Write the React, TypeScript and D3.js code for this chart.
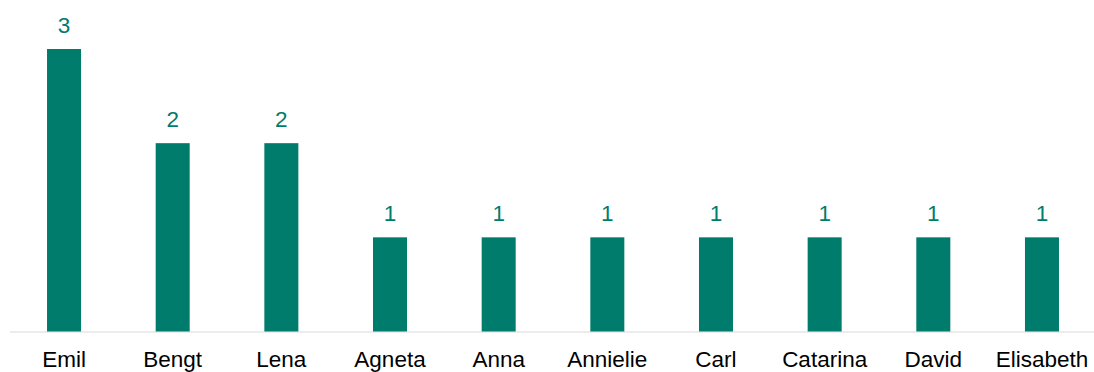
import React from "react";
import * as d3 from "d3";

const categories = ["Emil", "Bengt", "Lena", "Agneta", "Anna", "Annielie", "Carl", "Catarina", "David", "Elisabeth"];
const values = [3, 2, 2, 1, 1, 1, 1, 1, 1, 1];

const W = 1094;
const H = 372;
const TEAL = "#007C6D";

export default function App() {
  const x = d3.scaleBand<string>().domain(categories).range([9.7, 1096.3]).padding(0);
  const y = d3.scaleLinear().domain([0, 3]).range([331.5, 49]);
  const barW = x.bandwidth() * 0.313;
  return (
    <svg width={W} height={H} style={{ position: "absolute", left: 0, top: 0 }}
      fontFamily="'Liberation Sans', Arial, sans-serif">
      <line x1={10} x2={W} y1={332} y2={332} stroke="#d9d9d9" strokeWidth={1.2} />
      {categories.map((c, i) => {
        const cx = (x(c) as number) + x.bandwidth() / 2;
        const v = values[i];
        return (
          <g key={c}>
            <rect x={cx - barW / 2} y={y(v)} width={barW} height={y(0) - y(v)} fill={TEAL} />
            <text x={cx} y={y(v) - 16.5} textAnchor="middle" fontSize={22.5} fill={TEAL}>{v}</text>
            <text x={cx} y={366.7} textAnchor="middle" fontSize={22.5} fill="#000">{c}</text>
          </g>
        );
      })}
    </svg>
  );
}
